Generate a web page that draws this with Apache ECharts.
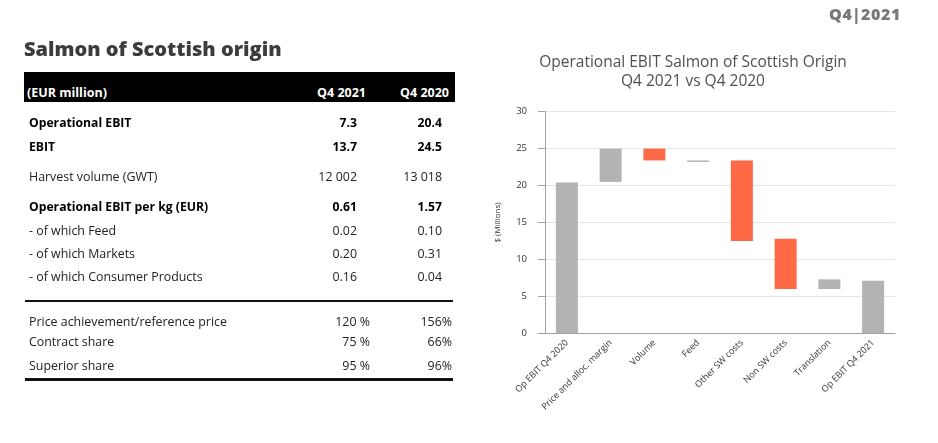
<!DOCTYPE html>
<html>
<head>
<meta charset="utf-8">
<script src="https://cdn.jsdelivr.net/npm/echarts@6/dist/echarts.min.js"></script>
<style>
  html, body { margin:0; padding:0; background:#fff; }
  #page { position:relative; width:938px; height:443px; overflow:hidden; font-family:"Open Sans", sans-serif; color:#222; }
  #chart { position:absolute; left:0; top:0; width:938px; height:443px; }
  .abs { position:absolute; white-space:nowrap; }
  #brand { right:37px; top:3px; font-size:16px; font-weight:800; color:#777; letter-spacing:0.6px; }
  #heading { left:24px; top:35px; font-size:20px; font-weight:800; color:#3c3c3c; }
  #hdr { left:24px; top:72px; width:431px; height:30px; background:#000; }
  .hcell { color:#fff; font-weight:700; font-size:12.5px; }
  .row { font-size:12.4px; line-height:16px; }
  .bold { font-weight:700; color:#000; font-size:12.2px; }
  .rule { left:25px; width:428px; background:#111; }
</style>
</head>
<body>
<div id="page">
  <div id="chart"></div>
  <div id="brand" class="abs">Q4|2021</div>
  <div id="heading" class="abs">Salmon of Scottish origin</div>
  <div id="hdr" class="abs"></div>
  <div id="table"></div>
</div>
<script>
// ---- Table data ----
var headerCols = ['(EUR million)', 'Q4 2021', 'Q4 2020'];
var rowLabels = ['Operational EBIT', 'EBIT', 'Harvest volume (GWT)', 'Operational EBIT per kg (EUR)',
  '- of which Feed', '- of which Markets', '- of which Consumer Products',
  'Price achievement/reference price', 'Contract share', 'Superior share'];
var colQ42021 = ['7.3', '13.7', '12 002', '0.61', '0.02', '0.20', '0.16', '120 %', '75 %', '95 %'];
var colQ42020 = ['20.4', '24.5', '13 018', '1.57', '0.10', '0.31', '0.04', '156%', '66%', '96%'];
var rowBold = [true, true, false, true, false, false, false, false, false, false];

// ---- Chart data ----
var categories = ['Op EBIT Q4 2020', 'Price and alloc. margin', 'Volume', 'Feed',
  'Other SW costs', 'Non SW costs', 'Translation', 'Op EBIT Q4 2021'];
var barLow  = [0,    20.5, 23.4, 23.2, 12.5, 6.0,  6.0, 0];
var barHigh = [20.4, 25.0, 25.0, 23.4, 23.4, 12.8, 7.3, 7.1];
var barKind = ['total', 'up', 'down', 'up', 'down', 'down', 'up', 'total'];
var yTicks = [0, 5, 10, 15, 20, 25, 30];

// ---- Build table (layout only) ----
var rowY = [122.5, 146.5, 176.5, 206.7, 230.7, 253.5, 277.3, 321.5, 341.7, 365.7];
var tbl = document.getElementById('table');
function addText(txt, x, yc, cls, alignRight) {
  var d = document.createElement('div');
  d.className = 'abs ' + cls;
  d.textContent = txt;
  d.style.top = (yc - 8) + 'px';
  if (alignRight) { d.style.right = (938 - x) + 'px'; } else { d.style.left = x + 'px'; }
  tbl.appendChild(d);
}
headerCols.forEach(function (t, i) {
  var d = document.createElement('div');
  d.className = 'abs hcell';
  d.textContent = t;
  d.style.top = '85px';
  d.style.lineHeight = '16px';
  if (i === 0) d.style.left = '27px'; else d.style.right = (938 - (i === 1 ? 366 : 449)) + 'px';
  tbl.appendChild(d);
});
rowLabels.forEach(function (lbl, i) {
  var cls = 'row' + (rowBold[i] ? ' bold' : '');
  var pct = i >= 7;
  addText(lbl, 29, rowY[i], cls, false);
  addText(colQ42021[i], pct ? 370 : 357, rowY[i], cls, true);
  addText(colQ42020[i], pct ? 452 : 442, rowY[i], cls, true);
});
[[299.5, 2], [377.5, 3.5]].forEach(function (r) {
  var d = document.createElement('div');
  d.className = 'abs rule';
  d.style.top = r[0] + 'px';
  d.style.height = r[1] + 'px';
  tbl.appendChild(d);
});

// ---- Chart ----
var GRAY = '#b3b3b3', ORANGE = '#fd6a45';
var chart = echarts.init(document.getElementById('chart'), null, { renderer: 'canvas' });
chart.setOption({
  animation: false,
  title: {
    text: 'Operational EBIT Salmon of Scottish Origin\nQ4 2021 vs Q4 2020',
    left: 688, top: 48, textAlign: 'center',
    textStyle: { fontFamily: 'Open Sans', fontSize: 15.5, fontWeight: 'normal', color: '#505050', lineHeight: 19 }
  },
  grid: { left: 545, right: 43, top: 111.7, bottom: 109.7, containLabel: false },
  xAxis: {
    type: 'category', data: categories,
    axisLine: { lineStyle: { color: '#a0a0a0', width: 1 } },
    axisTick: { alignWithLabel: true, length: 5, lineStyle: { color: '#a0a0a0' } },
    axisLabel: { rotate: 45, fontSize: 9, color: '#333', fontFamily: 'Open Sans', margin: 8, interval: 0 }
  },
  yAxis: {
    type: 'value', min: yTicks[0], max: yTicks[yTicks.length - 1], interval: 5,
    name: '$ (Millions)', nameLocation: 'middle', nameRotate: 90, nameGap: 43,
    nameTextStyle: { fontSize: 8, color: '#333', fontFamily: 'Open Sans' },
    axisLine: { show: true, lineStyle: { color: '#a0a0a0' } },
    axisTick: { show: true, length: 7, lineStyle: { color: '#a0a0a0' } },
    axisLabel: { fontSize: 9.5, color: '#333', margin: 18, fontFamily: 'Open Sans' },
    splitLine: { lineStyle: { color: '#e6e6e6' } }
  },
  series: [
    {
      type: 'bar', stack: 'w', barWidth: 22, silent: true,
      itemStyle: { color: 'transparent' },
      data: barLow
    },
    {
      type: 'bar', stack: 'w', barWidth: 22, barMinHeight: 1,
      data: barHigh.map(function (v, i) {
        return { value: +(v - barLow[i]).toFixed(2), itemStyle: { color: barKind[i] === 'down' ? ORANGE : GRAY } };
      })
    }
  ]
});
</script>
</body>
</html>
